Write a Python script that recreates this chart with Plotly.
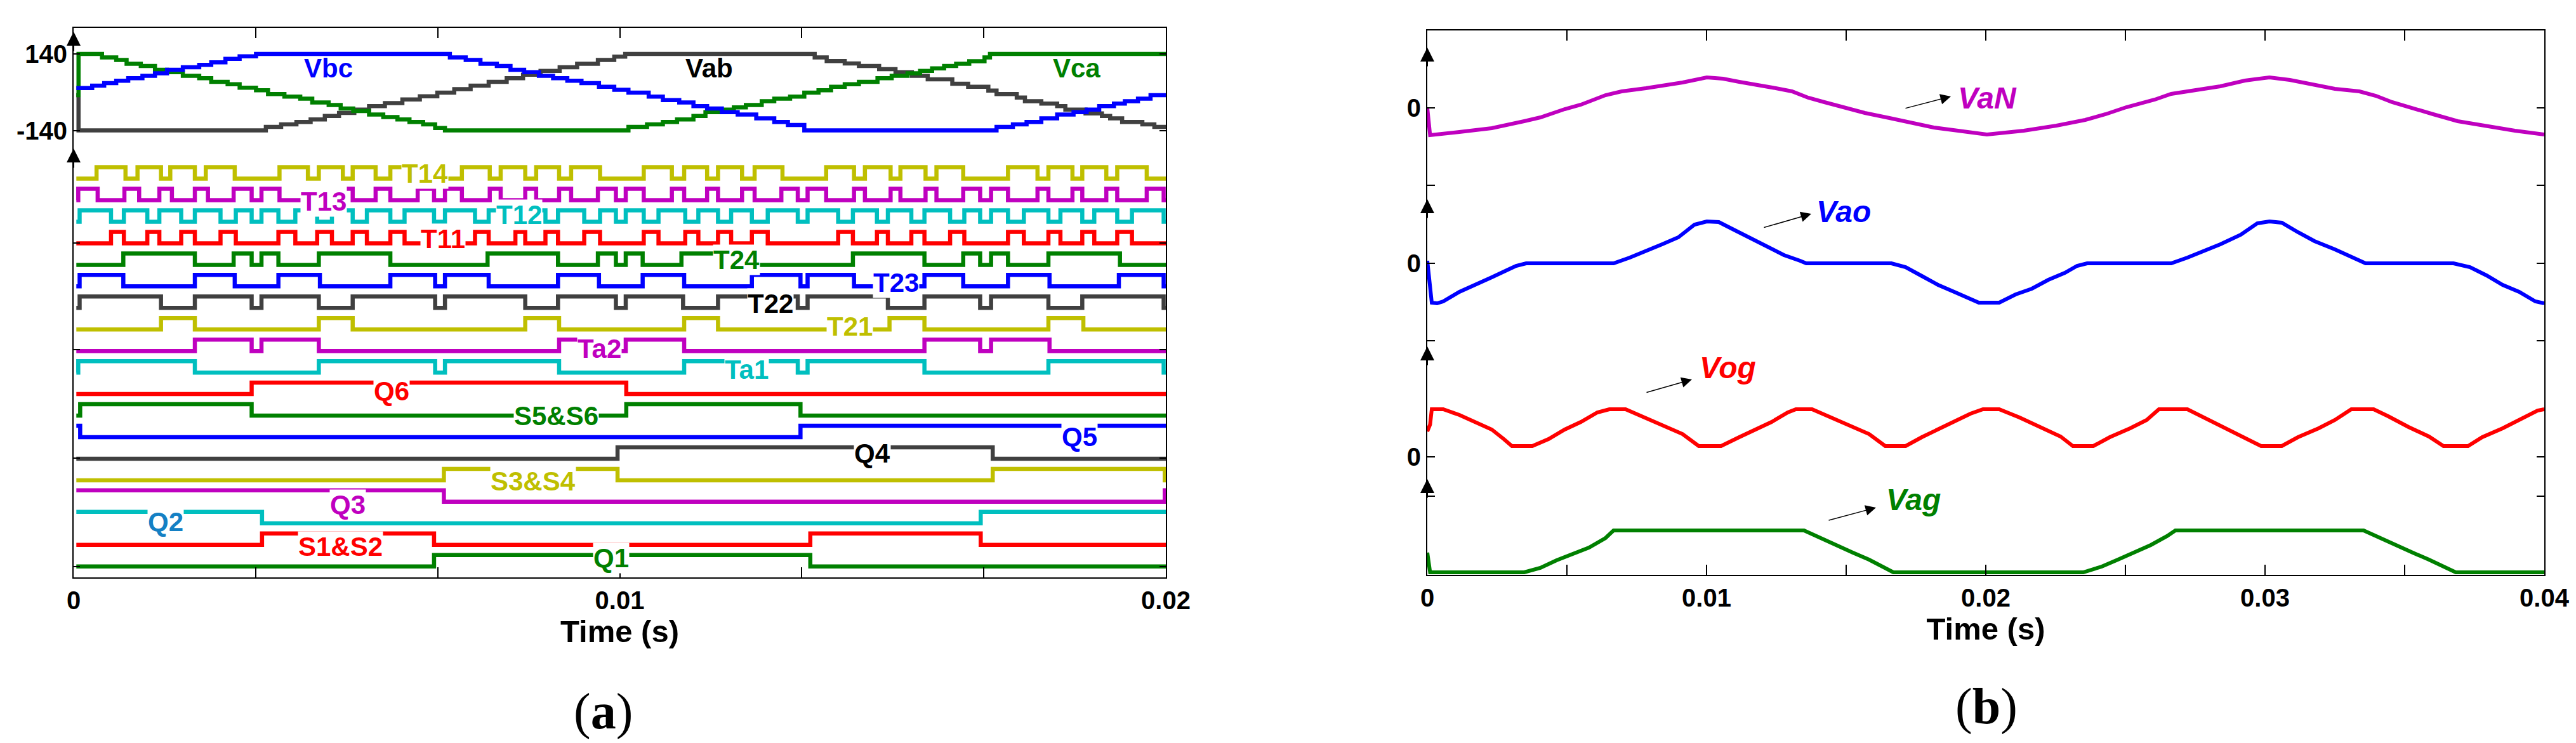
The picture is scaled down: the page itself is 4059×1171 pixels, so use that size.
import plotly.graph_objects as go

# ---------------- Panel (a): line voltages (time in ms, volts) ----------------
vab_t = [0.05, 0.09, 3.52, 3.80, 4.08, 4.34, 4.60, 4.86, 5.14, 5.41, 5.70, 6.02, 6.34, 6.66, 6.97, 7.27,
         7.60, 7.93, 8.23, 8.55, 8.90, 9.22, 9.60, 9.90, 10.10, 13.57, 13.79, 14.12, 14.38, 14.75, 15.05,
         15.35, 15.64, 16.09, 16.38, 16.75, 16.90, 17.27, 17.42, 17.72, 18.01, 18.16, 18.53, 18.83, 18.98,
         19.20, 19.57, 19.79, 20.0]
vab_v = [-11, -140, -127, -118, -109, -100, -87, -76, -64, -51, -40, -27, -15, -2, 11, 24,
         38, 51, 64, 78, 91, 104, 118, 130, 140, 127, 114, 105, 96, 84, 73,
         60, 47, 31, 20, 6, -7, -20, -33, -42, -51, -64, -78, -87, -96,
         -109, -118, -127, -127]

vbc_t = [0.05, 0.34, 0.56, 0.78, 1.00, 1.26, 1.49, 1.71, 2.00, 2.30, 2.52, 2.78, 3.04, 3.34, 6.89, 7.18,
         7.45, 7.75, 8.00, 8.25, 8.52, 8.78, 9.04, 9.30, 9.62, 9.90, 10.16, 10.53, 10.79, 11.09, 11.35,
         11.60, 11.87, 12.16, 12.50, 12.83, 13.08, 13.38, 16.90, 17.20, 17.45, 17.72, 18.01, 18.31, 18.55,
         18.78, 19.05, 19.25, 19.49, 19.72, 20.0]
vbc_v = [15, 24, 33, 42, 51, 60, 69, 82, 91, 100, 109, 122, 131, 140, 127, 118,
         104, 96, 82, 73, 60, 51, 42, 33, 20, 9, -2, -16, -29, -38, -51,
         -60, -73, -82, -96, -109, -120, -140, -127, -118, -109, -96, -82, -73, -64,
         -51, -42, -33, -24, -11, -11]

vca_t = [0.05, 0.09, 0.52, 0.78, 0.97, 1.23, 1.49, 1.71, 2.00, 2.30, 2.52, 2.82, 3.04, 3.34, 3.56, 3.86,
         4.15, 4.37, 4.67, 4.89, 5.12, 5.41, 5.67, 5.93, 6.15, 6.40, 6.62, 6.80, 10.16, 10.50, 10.79,
         11.05, 11.35, 11.57, 11.87, 12.09, 12.31, 12.60, 12.83, 13.12, 13.38, 13.64, 13.87, 14.12, 14.38,
         14.72, 14.98, 15.27, 15.50, 15.72, 15.94, 16.16, 16.40, 16.68, 16.78, 20.0]
vca_v = [-11, 140, 127, 118, 104, 96, 82, 73, 60, 51, 38, 29, 16, 7, -7, -16,
         -24, -38, -47, -60, -69, -82, -91, -100, -109, -118, -131, -140, -127, -118, -109,
         -100, -87, -73, -64, -56, -47, -33, -24, -16, -2, 7, 20, 29, 38,
         51, 60, 69, 78, 87, 96, 104, 113, 127, 140, 140]

# ---------------- Panel (a): gate signals: initial state + toggle times (ms) ----------------
T14 = [0.42, 0.95, 1.17, 1.60, 1.77, 2.22, 2.42, 2.95, 3.77, 4.29, 4.49, 4.93, 5.11, 5.53, 5.80, 6.30,
       7.11, 7.62, 7.82, 8.27, 8.47, 8.89, 9.11, 9.64, 10.44, 10.955, 11.18, 11.60, 11.80, 12.24, 12.47,
       12.98, 13.78, 14.29, 14.49, 14.96, 15.14, 15.60, 15.80, 16.29, 17.11, 17.65, 17.85, 18.29, 18.47,
       18.91, 19.11, 19.65]
T13 = [0.085, 0.44, 0.93, 1.20, 1.57, 1.80, 2.22, 2.46, 2.93, 3.26, 3.44, 3.77, 4.29, 4.49, 4.93, 5.11,
       5.53, 5.80, 6.30, 6.60, 6.80, 7.11, 7.62, 7.82, 8.27, 8.47, 8.89, 9.11, 9.60, 9.93, 10.11, 10.44,
       10.955, 11.18, 11.60, 11.80, 12.24, 12.47, 12.96, 13.26, 13.44, 13.78, 14.29, 14.49, 14.96, 15.14,
       15.60, 15.80, 16.29, 16.60, 16.80, 17.11, 17.65, 17.85, 18.29, 18.47, 18.91, 19.11, 19.65, 19.96]
T12 = [0.11, 0.685, 0.92, 1.35, 1.57, 1.97, 2.22, 2.69, 2.97, 3.26, 3.44, 3.75, 4.06, 4.46, 4.73, 5.11,
       5.37, 5.80, 6.06, 6.60, 6.80, 7.35, 7.60, 8.09, 8.27, 8.64, 8.87, 9.35, 9.64, 9.93, 10.11, 10.44,
       10.71, 11.20, 11.44, 11.80, 12.04, 12.42, 12.71, 13.26, 13.44, 14.00, 14.27, 14.71, 14.91, 15.34,
       15.58, 16.05, 16.31, 16.60, 16.80, 17.11, 17.40, 17.85, 18.07, 18.47, 18.69, 19.11, 19.38, 19.96]
T11 = [0.685, 0.92, 1.35, 1.57, 1.97, 2.22, 2.69, 2.97, 3.75, 4.06, 4.46, 4.73, 5.11, 5.37, 5.80, 6.06,
       7.35, 7.60, 8.09, 8.27, 8.64, 8.87, 9.35, 9.64, 10.44, 10.71, 11.20, 11.44, 11.80, 12.04, 12.42,
       12.71, 14.00, 14.27, 14.71, 14.91, 15.34, 15.58, 16.05, 16.31, 17.11, 17.40, 17.85, 18.07, 18.47,
       18.69, 19.11, 19.38]
T24 = [0.91, 2.22, 2.93, 3.26, 3.44, 3.75, 4.49, 5.80, 7.58, 8.87, 9.60, 9.93, 10.11, 10.42, 11.13, 12.42,
       14.27, 15.58, 16.29, 16.60, 16.80, 17.11, 17.85, 19.16]
T23 = [0.11, 0.91, 2.22, 2.95, 3.75, 4.51, 5.80, 6.62, 6.80, 7.60, 8.87, 9.62, 10.42, 11.18, 12.42, 13.31,
       13.44, 14.29, 15.58, 16.29, 17.11, 17.87, 19.14, 19.96]
T22 = [0.11, 1.60, 2.22, 3.26, 3.44, 4.49, 5.11, 6.62, 6.80, 8.27, 8.87, 9.93, 10.11, 11.16, 11.80, 13.26,
       13.44, 14.91, 15.58, 16.60, 16.80, 17.85, 18.47, 19.96]
T21 = [1.60, 2.22, 4.49, 5.11, 8.27, 8.89, 11.18, 11.80, 14.94, 15.58, 17.85, 18.49]
Ta2 = [2.22, 3.26, 3.44, 4.49, 8.89, 9.93, 10.11, 11.18, 15.58, 16.60, 16.80, 17.87]
Ta1 = [0.085, 2.22, 4.49, 6.62, 6.80, 8.89, 11.18, 13.26, 13.44, 15.58, 17.85, 19.96]
Q6 = [3.26, 10.12]
S56 = [0.12, 3.26, 10.12, 13.31]
Q5 = [0.12, 13.31]
Q4 = [9.96, 16.83]
S34 = [6.78, 9.96, 16.83, 19.98]
Q3 = [6.78, 19.98]
Q2 = [3.45, 16.61]
S12 = [3.45, 6.60, 13.49, 16.61]
Q1 = [6.60, 13.49]

gate_names = ["T14", "T13", "T12", "T11", "T24", "T23", "T22", "T21", "Ta2", "Ta1",
              "Q6", "S5&S6", "Q5", "Q4", "S3&S4", "Q3", "Q2", "S1&S2", "Q1"]
gate_init = [0, 0, 0, 0, 0, 0, 0, 0, 0, 0, 0, 0, 1, 0, 0, 1, 1, 0, 0]
gate_toggles = [T14, T13, T12, T11, T24, T23, T22, T21, Ta2, Ta1, Q6, S56, Q5, Q4, S34, Q3, Q2, S12, Q1]

# ---------------- Panel (b): phase voltages (time ms, level relative to own zero) ----------------
van_t = [0.0, 0.10, 1.15, 2.31, 3.47, 4.05, 4.92, 5.50, 6.38, 6.96, 7.83, 8.41, 9.14, 10.01, 10.59, 11.17,
         11.75, 12.48, 13.06, 13.64, 14.22, 15.09, 15.67, 16.55, 17.27, 18.14, 19.01, 20.04, 21.36, 22.53,
         23.56, 24.29, 25.03, 26.05, 26.64, 27.52, 28.40, 29.28, 30.16, 30.89, 31.62, 32.50, 33.38, 33.97,
         34.55, 35.29, 36.02, 36.90, 37.78, 38.95, 40.0]
van_v = [0, -43, -38, -32, -21, -15, -2, 5, 20, 26, 31, 35, 40, 48, 46, 41,
         37, 31, 26, 16, 9, -1, -8, -16, -23, -31, -36, -42, -36, -28,
         -19, -10, 1, 13, 22, 28, 34, 43, 48, 44, 37, 30, 26, 19,
         9, -1, -10, -21, -28, -36, -42]

vao_t = [0.0, 0.10, 0.16, 0.35, 0.57, 1.15, 1.73, 2.31, 2.89, 3.18, 3.54, 6.67, 7.25, 7.83, 8.41, 8.99,
         9.57, 10.01, 10.44, 11.02, 11.61, 12.19, 12.77, 13.35, 13.57, 16.62, 17.13, 17.71, 18.29, 18.87,
         19.45, 19.75, 20.48, 21.07, 21.65, 22.24, 22.83, 23.27, 23.63, 26.64, 27.22, 27.81, 28.40, 29.13,
         29.72, 30.16, 30.60, 31.18, 31.77, 32.50, 33.09, 33.60, 36.75, 37.34, 37.93, 38.51, 39.10, 39.68,
         40.0]
vao_v = [4, -37, -62, -63, -60, -45, -34, -22, -10, -4, 0, 0, 9, 19, 30, 41,
         61, 66, 65, 52, 39, 26, 13, 4, 0, 0, -6, -20, -34, -45,
         -57, -62, -62, -49, -40, -26, -15, -4, 0, 0, 9, 19, 30, 45,
         63, 66, 64, 49, 35, 22, 11, 0, 0, -6, -19, -34, -45, -60,
         -63]

vog_t = [0.0, 0.10, 0.16, 0.57, 1.15, 1.73, 2.31, 2.74, 3.03, 3.76, 4.34, 4.92, 5.50, 6.09, 6.52, 7.10,
         7.68, 8.41, 9.14, 9.72, 10.52, 11.17, 11.75, 12.33, 12.91, 13.20, 13.78, 14.37, 15.09, 15.82,
         16.40, 17.13, 17.71, 18.29, 18.87, 19.45, 19.90, 20.48, 21.21, 21.95, 22.68, 23.12, 23.85, 24.44,
         25.17, 25.76, 26.20, 27.22, 27.81, 28.54, 29.28, 29.86, 30.60, 31.18, 31.92, 32.50, 33.09, 33.89,
         34.41, 35.14, 35.87, 36.39, 37.27, 37.78, 38.51, 39.24, 39.76, 40.0]
vog_v = [40, 51, 75, 75, 66, 55, 43, 28, 17, 17, 28, 43, 55, 70, 75, 75,
         64, 51, 36, 17, 17, 31, 43, 55, 70, 75, 75, 64, 51, 36,
         17, 17, 31, 43, 56, 68, 75, 75, 62, 47, 32, 17, 17, 31,
         45, 58, 75, 75, 62, 47, 31, 17, 17, 31, 45, 58, 75, 75,
         64, 47, 32, 17, 17, 31, 45, 61, 73, 75]

vag_t = [0.0, 0.10, 3.47, 4.05, 4.63, 5.21, 5.79, 6.38, 6.67, 13.49, 14.07, 14.66, 15.24, 15.82, 16.40, 16.69,
         23.49, 24.15, 24.73, 25.32, 25.91, 26.49, 26.79, 33.53, 34.11, 34.70, 35.29, 35.87, 36.46, 36.83,
         40.0]
vag_v = [31, 0, 0, 7, 19, 29, 39, 54, 66, 66, 54, 43, 31, 20, 7, 0,
         0, 9, 20, 31, 43, 57, 66, 66, 54, 43, 31, 20, 7, 0,
         0]

# ---------------- styling ----------------
W, H = 4059, 1171
YEL, MAG, CYA, RED, GRN, BLU, GRY = "#BFBF00", "#BF00BF", "#00BFBF", "#FF0000", "#008000", "#0000FF", "#404040"
gate_colors = [YEL, MAG, CYA, RED, GRN, BLU, GRY, YEL, MAG, CYA, RED, GRN, BLU, GRY, YEL, MAG, CYA, RED, GRN]
SANS = "Liberation Sans, Arial, sans-serif"

# panel (a) vertical layout (axis units = pixels above bottom frame)
ROW0_LOW, ROW_STEP, GATE_H = 628.4, 33.95, 18.0
V_MID, V_SCALE = 764.75, 0.4304
# panel (b) zero lines
ZERO_B = {"VaN": 736, "Vao": 491, "Vog": 186, "Vag": 4}

fig = go.Figure()

def ms(ts):
    return [t / 1000.0 for t in ts]

# line voltages
for tt, vv, col in [(vab_t, vab_v, GRY), (vca_t, vca_v, GRN), (vbc_t, vbc_v, BLU)]:
    fig.add_trace(go.Scatter(x=ms(tt), y=[V_MID + V_SCALE * v for v in vv], mode="lines",
                             line=dict(color=col, width=6.5, shape="hv"), xaxis="x", yaxis="y",
                             showlegend=False, hoverinfo="skip"))

# gate signals
for i, (name, s0, tg, col) in enumerate(zip(gate_names, gate_init, gate_toggles, gate_colors)):
    xs, ys, s = [0.05], [s0], s0
    for t in tg:
        s = 1 - s
        xs.append(t)
        ys.append(s)
    xs.append(20.0)
    ys.append(s)
    base = ROW0_LOW - ROW_STEP * i
    fig.add_trace(go.Scatter(x=ms(xs), y=[base + GATE_H * v for v in ys], mode="lines",
                             line=dict(color=col, width=6.5, shape="hv"), xaxis="x", yaxis="y",
                             showlegend=False, hoverinfo="skip"))

# panel (b)
for tt, vv, key, col in [(van_t, van_v, "VaN", MAG), (vao_t, vao_v, "Vao", BLU),
                         (vog_t, vog_v, "Vog", RED), (vag_t, vag_v, "Vag", GRN)]:
    fig.add_trace(go.Scatter(x=ms(tt), y=[ZERO_B[key] + v for v in vv], mode="lines",
                             line=dict(color=col, width=6), xaxis="x2", yaxis="y2",
                             showlegend=False, hoverinfo="skip"))

ann = []
# panel (a) labels
a_labels = [
    ("Vbc", 0.004669, 802.5, BLU), ("Vab", 0.011638, 802.5, "#000000"), ("Vca", 0.018362, 802.5, GRN),
    ("T14", 0.006434, 636, YEL), ("T13", 0.004576, 592, MAG), ("T12", 0.008153, 571, CYA),
    ("T11", 0.006760, 533, RED), ("T24", 0.012137, 500, GRN), ("T23", 0.015064, 464, BLU),
    ("T22", 0.012764, 431, "#000000"), ("T21", 0.014216, 395, YEL), ("Ta2", 0.009628, 360.5, MAG),
    ("Ta1", 0.012323, 328, CYA), ("Q6", 0.005819, 293.4, RED), ("S5&S6", 0.008839, 255, GRN),
    ("Q5", 0.018420, 221.3, BLU), ("Q4", 0.014623, 196, "#000000"), ("S3&S4", 0.008409, 152, YEL),
    ("Q3", 0.005017, 114.4, MAG), ("Q2", 0.001684, 87.5, "#1480C4"), ("S1&S2", 0.004890, 49, RED),
    ("Q1", 0.009843, 31, GRN),
]
for txt, x, y, col in a_labels:
    bg = "rgba(0,0,0,0)" if txt in ("Vbc", "Vab", "Vca") else "white"
    ann.append(dict(x=x, y=y, xref="x", yref="y", text="<b>%s</b>" % txt.replace("&", "&amp;"),
                    showarrow=False, font=dict(family=SANS, size=42, color=col),
                    bgcolor=bg, borderpad=0, xanchor="center", yanchor="middle"))

# axis arrows panel (a)
for tip, tail in [(860, 828), (676, 644)]:
    ann.append(dict(x=0, y=tip, ax=0, ay=tail, xref="x", yref="y", axref="x", ayref="y",
                    text="", showarrow=True, arrowhead=2, arrowsize=2.2, arrowwidth=2, arrowcolor="black"))
# axis arrows panel (b)
for tip, tail in [(831, 800), (592, 561), (360, 329), (151, 120)]:
    ann.append(dict(x=0, y=tip, ax=0, ay=tail, xref="x2", yref="y2", axref="x2", ayref="y2",
                    text="", showarrow=True, arrowhead=2, arrowsize=2.2, arrowwidth=2, arrowcolor="black"))

# panel (b) labels with pointer arrows
b_labels = [
    ("VaN", 0.020068, 752, MAG, (0.017091, 735), (0.018750, 754)),
    ("Vao", 0.014909, 573, BLU, (0.012023, 547), (0.013750, 569)),
    ("Vog", 0.010750, 327, RED, (0.007818, 287), (0.009477, 308)),
    ("Vag", 0.017409, 119, GRN, (0.014341, 85.5), (0.016068, 106)),
]
for txt, x, y, col, tail, head in b_labels:
    ann.append(dict(x=x, y=y, xref="x2", yref="y2", text="<b><i>%s</i></b>" % txt, showarrow=False,
                    font=dict(family=SANS, size=48, color=col), xanchor="center", yanchor="middle"))
    ann.append(dict(x=head[0], y=head[1], ax=tail[0], ay=tail[1], xref="x2", yref="y2",
                    axref="x2", ayref="y2", text="", showarrow=True, arrowhead=2, arrowsize=2.2,
                    arrowwidth=1.5, arrowcolor="black"))

# sub-captions
ann.append(dict(x=942 / W, y=1 - 1113 / H, xref="paper", yref="paper", text="(<b>a</b>)", showarrow=False,
                font=dict(family="Liberation Serif, serif", size=80, color="black"),
                xanchor="center", yanchor="middle"))
ann.append(dict(x=3122 / W, y=1 - 1105 / H, xref="paper", yref="paper", text="(<b>b</b>)", showarrow=False,
                font=dict(family="Liberation Serif, serif", size=80, color="black"),
                xanchor="center", yanchor="middle"))

tickfont = dict(family=SANS, size=40, color="black", weight="bold")
titlefont = dict(family=SANS, size=49, color="black", weight="bold")
common_axis = dict(showline=True, linecolor="black", linewidth=2, mirror="allticks", ticks="inside",
                   showgrid=False, zeroline=False, tickcolor="black", tickwidth=1.5, automargin=False,
                   tickfont=tickfont)

xa_vals = [0, 1 / 300, 2 / 300, 0.01, 4 / 300, 5 / 300, 0.02]
xa_text = ["0", "", "", "0.01", "", "", "0.02"]
xb_vals = [0, 0.005, 0.01, 0.015, 0.02, 0.025, 0.03, 0.035, 0.04]
xb_text = ["0", "", "0.01", "", "0.02", "", "0.03", "", "0.04"]

fig.update_layout(
    width=W, height=H, margin=dict(l=0, r=0, t=0, b=0),
    paper_bgcolor="white", plot_bgcolor="white", showlegend=False,
    xaxis=dict(domain=[108 / W, 1829 / W], range=[0, 0.02], tickvals=xa_vals, ticktext=xa_text,
               ticklen=16, anchor="y", title=dict(text="Time (s)", font=titlefont, standoff=2),
               **common_axis),
    yaxis=dict(domain=[1 - 902 / H, 1 - 36 / H], range=[0, 866], anchor="x",
               tickvals=[825, 704.5, 527, 359, 188, 17], ticktext=["140", "-140", "", "", "", ""],
               ticklen=10, **common_axis),
    xaxis2=dict(domain=[2241 / W, 4001 / W], range=[0, 0.04], tickvals=xb_vals, ticktext=xb_text,
                ticklen=16, anchor="y2", title=dict(text="Time (s)", font=titlefont, standoff=2),
                **common_axis),
    yaxis2=dict(domain=[1 - 898 / H, 1 - 40 / H], range=[0, 858], anchor="x2",
                tickvals=[736, 614, 491, 369, 186, 124], ticktext=["0", "", "0", "", "0", ""],
                ticklen=12, **common_axis),
    annotations=ann,
)

fig.write_html("out.html")
